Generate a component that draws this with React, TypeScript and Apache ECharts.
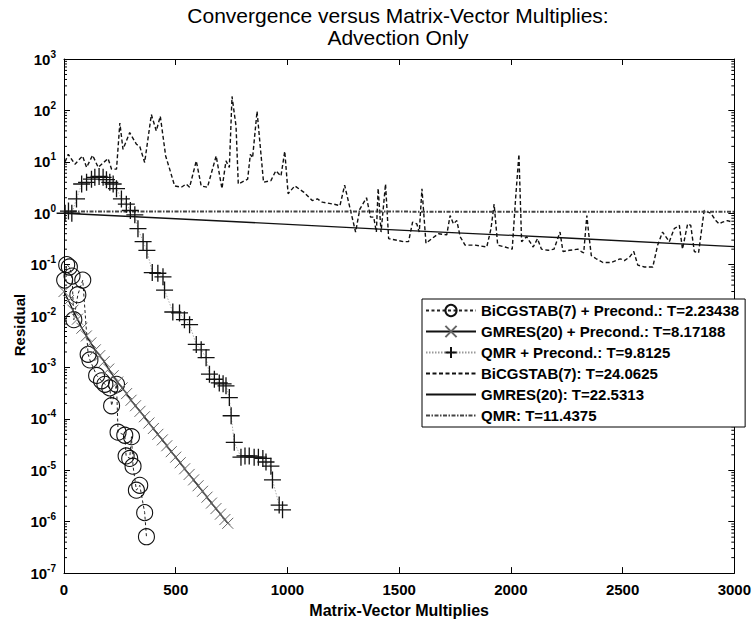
import React, { useEffect, useRef } from 'react';
import * as echarts from 'echarts';

const FONT = '"Liberation Sans", Arial, Helvetica, sans-serif';

const seriesNames = [
  'BiCGSTAB(7) + Precond.: T=2.23438',
  'GMRES(20) + Precond.: T=8.17188',
  'QMR + Precond.: T=9.8125',
  'BiCGSTAB(7): T=24.0625',
  'GMRES(20): T=22.5313',
  'QMR: T=11.4375',
];

const xTicks = [0, 500, 1000, 1500, 2000, 2500, 3000];

// BiCGSTAB(7) + Precond. (circles)
const bicgPrecondX = [3, 12, 24, 36, 44, 62, 84, 108, 116, 146, 168, 183, 205, 213, 235, 242, 272, 278, 294, 302, 309, 324, 339, 361, 369];
const bicgPrecondY = [0.05, 0.1, 0.09, 0.06, 0.0085, 0.026, 0.05, 0.0018, 0.0014, 0.0007, 0.00055, 0.00047, 0.0004, 0.00018, 0.00047, 0.000055, 0.000048, 0.000019, 0.000017, 0.000045, 0.000012, 0.0000041, 0.0000051, 0.0000015, 0.00000051];

// GMRES(20) + Precond. (x marks)
const gmresPrecondX = [0, 20, 40, 60, 80, 100, 120, 140, 160, 180, 200, 220, 240, 260, 280, 300, 320, 340, 360, 380, 400, 420, 440, 460, 480, 500, 520, 540, 560, 580, 600, 620, 640, 660, 680, 700, 720, 733];
const gmresPrecondY = [0.030, 0.020, 0.013, 0.0087, 0.0058, 0.0041, 0.0030, 0.0022, 0.0017, 0.0013, 0.00093, 0.00069, 0.00052, 0.00040, 0.00031, 0.00023, 0.00018, 0.00014, 0.00011, 0.000083, 0.000065, 0.000050, 0.000039, 0.000030, 0.000023, 0.000018, 0.000014, 0.0000107, 0.0000083, 0.0000065, 0.0000050, 0.0000039, 0.0000030, 0.0000023, 0.0000018, 0.0000014, 0.0000011, 0.00000093];

// QMR + Precond. (plus marks)
const qmrPrecondX = [5, 20, 35, 56, 79, 101, 123, 138, 157, 175, 190, 205, 220, 235, 257, 279, 297, 317, 331, 354, 371, 395, 420, 443, 450, 487, 517, 539, 562, 592, 614, 636, 651, 673, 695, 712, 725, 740, 748, 762, 792, 810, 829, 851, 870, 890, 904, 926, 933, 963, 978];
const qmrPrecondY = [1.0, 1.1, 1.0, 1.9, 3.7, 4.0, 4.6, 5.0, 5.2, 5.0, 4.5, 4.0, 3.7, 3.0, 1.9, 1.5, 1.13, 0.93, 0.5, 0.28, 0.19, 0.07, 0.068, 0.058, 0.032, 0.012, 0.0115, 0.0085, 0.0068, 0.0028, 0.0022, 0.00155, 0.00074, 0.00059, 0.0005, 0.00048, 0.00044, 0.00026, 0.000115, 0.000035, 0.000018, 0.000019, 0.000019, 0.000018, 0.000018, 0.000017, 0.0000145, 0.000012, 0.0000065, 0.0000021, 0.0000017];

// BiCGSTAB(7) without preconditioner (dashed)
const bicgX = [5, 19, 49, 83, 101, 128, 153, 197, 213, 235, 250, 264, 294, 324, 339, 361, 391, 413, 431, 455, 473, 495, 525, 547, 562, 592, 614, 642, 681, 707, 725, 740, 752, 770, 780, 822, 834, 844, 864, 893, 926, 948, 971, 988, 1003, 1033, 1074, 1111, 1134, 1156, 1208, 1235, 1256, 1305, 1324, 1354, 1372, 1386, 1398, 1406, 1419, 1439, 1453, 1520, 1542, 1560, 1579, 1590, 1602, 1620, 1646, 1676, 1713, 1728, 1743, 1758, 1773, 1795, 1840, 1892, 1911, 1925, 1941, 1974, 2006, 2021, 2036, 2048, 2070, 2100, 2119, 2137, 2167, 2193, 2220, 2233, 2263, 2300, 2315, 2326, 2340, 2349, 2360, 2382, 2412, 2449, 2471, 2489, 2508, 2531, 2550, 2568, 2598, 2635, 2657, 2679, 2709, 2731, 2754, 2768, 2791, 2805, 2821, 2840, 2865, 2895, 2917, 2932, 2947, 2969, 2991];
const bicgY = [10, 14, 9, 13, 7.8, 13.4, 7.8, 11.6, 7.2, 7.2, 57, 17.5, 37, 22, 20, 9.7, 83, 40, 77, 13, 7.2, 3.4, 3.2, 3.7, 3.2, 10.4, 3.4, 3.2, 13, 3.0, 10.4, 7.8, 187, 49, 3.7, 4.6, 14, 12, 96, 4, 4.3, 6.7, 5.3, 16, 2.4, 3.4, 2.55, 1.76, 1.9, 1.64, 1.5, 1.4, 3.5, 0.43, 1.2, 2.0, 0.84, 0.84, 0.43, 3.05, 0.43, 3.7, 0.32, 0.28, 0.28, 0.67, 0.62, 0.43, 3.0, 0.26, 0.32, 0.4, 0.38, 0.9, 0.62, 0.72, 0.35, 0.24, 0.24, 0.22, 0.5, 1.5, 0.24, 0.22, 0.2, 1.9, 14, 0.28, 0.35, 0.22, 0.32, 0.2, 0.19, 0.2, 0.43, 0.18, 0.19, 0.2, 0.18, 0.17, 0.9, 0.38, 0.15, 0.13, 0.11, 0.11, 0.12, 0.13, 0.12, 0.14, 0.18, 0.098, 0.09, 0.09, 0.24, 0.43, 0.28, 0.5, 0.58, 0.2, 0.62, 0.58, 0.18, 0.17, 1.13, 1.0, 0.72, 0.62, 0.67, 0.72, 0.67];

// GMRES(20) without preconditioner (solid)
const gmresX = [0, 750, 1500, 2250, 3000];
const gmresY = [1.0, 0.69, 0.47, 0.33, 0.225];

// QMR without preconditioner (dash-dot)
const qmrX = [0, 1000, 2000, 3000];
const qmrY = [1.08, 1.08, 1.07, 1.07];

const zip = (xs: number[], ys: number[]) => xs.map((x, i) => [x, ys[i]]);

const minorTickValues: number[] = [];
for (let e = -7; e <= 2; e++) {
  for (let k = 2; k <= 9; k++) minorTickValues.push(k * Math.pow(10, e));
}

const X_SYMBOL = 'path://M0,0L10,10M10,0L0,10';
const PLUS_SYMBOL = 'path://M0,5L10,5M5,0L5,10';

export default function App() {
  const ref = useRef<HTMLDivElement>(null);

  useEffect(() => {
    if (!ref.current) return;
    const chart = echarts.init(ref.current, null, { renderer: 'svg' });

    const axisLineStyle = { color: '#000', width: 1 };

    const option: any = {
      animation: false,
      backgroundColor: '#fff',
      textStyle: { fontFamily: FONT },
      grid: { left: 64, top: 59, right: 17, bottom: 46, show: false },
      graphic: [
        {
          type: 'text',
          x: 398,
          y: 15,
          style: {
            text: 'Convergence versus Matrix-Vector Multiplies:',
            font: '21px ' + FONT,
            fill: '#000',
            textAlign: 'center',
            textVerticalAlign: 'middle',
          },
        },
        {
          type: 'text',
          x: 398,
          y: 37,
          style: {
            text: 'Advection Only',
            font: '21px ' + FONT,
            fill: '#000',
            textAlign: 'center',
            textVerticalAlign: 'middle',
          },
        },
        {
          type: 'text',
          x: 19,
          y: 325,
          rotation: Math.PI / 2,
          style: {
            text: 'Residual',
            font: 'bold 15px ' + FONT,
            fill: '#000',
            textAlign: 'center',
            textVerticalAlign: 'middle',
          },
        },
      ],
      legend: {
        data: seriesNames,
        orient: 'vertical',
        left: 422,
        top: 299,
        itemWidth: 50,
        itemHeight: 14,
        itemGap: 6,
        padding: [4, 6, 4, 3],
        borderColor: '#000',
        borderWidth: 1,
        borderRadius: 0,
        backgroundColor: '#fff',
        selectedMode: false,
        textStyle: { fontFamily: FONT, fontSize: 15, fontWeight: 'bold', color: '#000' },
      },
      xAxis: [
        {
          type: 'value',
          min: 0,
          max: 3000,
          interval: 500,
          position: 'bottom',
          name: 'Matrix-Vector Multiplies',
          nameLocation: 'middle',
          nameGap: 27,
          nameTextStyle: { fontFamily: FONT, fontSize: 16, fontWeight: 'bold', color: '#000' },
          axisLine: { show: true, onZero: false, lineStyle: axisLineStyle },
          axisTick: { show: true, inside: true, length: 6, lineStyle: axisLineStyle },
          axisLabel: {
            fontFamily: FONT,
            fontSize: 15,
            fontWeight: 'bold',
            color: '#000',
            margin: 9,
            formatter: (v: number) => (xTicks.includes(v) ? String(v) : ''),
          },
          splitLine: { show: false },
        },
        {
          type: 'value',
          min: 0,
          max: 3000,
          interval: 500,
          position: 'top',
          axisLine: { show: true, onZero: false, lineStyle: axisLineStyle },
          axisTick: { show: true, inside: true, length: 6, lineStyle: axisLineStyle },
          axisLabel: { show: false },
          splitLine: { show: false },
        },
      ],
      yAxis: [
        {
          type: 'log',
          logBase: 10,
          min: 1e-7,
          max: 1000,
          interval: 1,
          position: 'left',
          axisLine: { show: true, onZero: false, lineStyle: axisLineStyle },
          axisTick: { show: true, inside: true, length: 6, lineStyle: axisLineStyle },
          axisLabel: {
            margin: 8,
            formatter: (v: number) => {
              const e = Math.round(Math.log10(v));
              return '{b|10}{s|' + e + '}';
            },
            rich: {
              b: { fontFamily: FONT, fontSize: 15, fontWeight: 'bold', color: '#000' },
              s: { fontFamily: FONT, fontSize: 10, fontWeight: 'bold', color: '#000', padding: [0, 0, 10, 0] },
            },
          },
          splitLine: { show: false },
        },
        {
          type: 'log',
          logBase: 10,
          min: 1e-7,
          max: 1000,
          interval: 1,
          position: 'right',
          axisLine: { show: true, onZero: false, lineStyle: axisLineStyle },
          axisTick: { show: true, inside: true, length: 6, lineStyle: axisLineStyle },
          axisLabel: { show: false },
          splitLine: { show: false },
        },
      ],
      series: [
        {
          type: 'custom',
          name: 'minorTicks',
          xAxisIndex: 0,
          yAxisIndex: 0,
          silent: true,
          data: minorTickValues.map((v) => [0, v]),
          encode: { x: 0, y: 1 },
          renderItem: (params: any, api: any) => {
            const v = api.value(1);
            const a = api.coord([0, v]);
            const b = api.coord([3000, v]);
            return {
              type: 'group',
              children: [
                { type: 'line', shape: { x1: a[0], y1: a[1], x2: a[0] + 3, y2: a[1] }, style: { stroke: '#000', lineWidth: 1 } },
                { type: 'line', shape: { x1: b[0] - 3, y1: b[1], x2: b[0], y2: b[1] }, style: { stroke: '#000', lineWidth: 1 } },
              ],
            };
          },
        },
        {
          type: 'line',
          name: seriesNames[3],
          data: zip(bicgX, bicgY),
          symbol: 'none',
          itemStyle: { color: 'transparent' },
          lineStyle: { color: '#111', width: 1.4, type: [4, 2.5] },
          z: 2,
        },
        {
          type: 'line',
          name: seriesNames[4],
          data: zip(gmresX, gmresY),
          symbol: 'none',
          itemStyle: { color: 'transparent' },
          lineStyle: { color: '#111', width: 1.3, type: 'solid' },
          z: 2,
        },
        {
          type: 'line',
          name: seriesNames[5],
          data: zip(qmrX, qmrY),
          symbol: 'none',
          itemStyle: { color: 'transparent' },
          lineStyle: { color: '#444', width: 2, type: [4, 1.5, 1.5, 1.5] },
          z: 2,
        },
        {
          type: 'line',
          name: seriesNames[0],
          data: zip(bicgPrecondX, bicgPrecondY),
          symbol: 'circle',
          symbolSize: 16,
          itemStyle: { color: 'transparent', borderColor: '#111', borderWidth: 1.1 },
          lineStyle: { color: '#222', width: 1, type: [3, 2.5] },
          z: 3,
        },
        {
          type: 'line',
          name: seriesNames[1],
          data: zip(gmresPrecondX, gmresPrecondY),
          symbol: X_SYMBOL,
          symbolSize: 11,
          itemStyle: { color: 'transparent', borderColor: '#666', borderWidth: 1 },
          lineStyle: { color: '#111', width: 1.3, type: 'solid' },
          z: 3,
        },
        {
          type: 'line',
          name: seriesNames[2],
          data: zip(qmrPrecondX, qmrPrecondY),
          symbol: PLUS_SYMBOL,
          symbolSize: 17,
          itemStyle: { color: 'transparent', borderColor: '#111', borderWidth: 1.3 },
          lineStyle: { color: '#999', width: 0.8, type: [1.5, 1.5] },
          z: 3,
        },
      ],
    };

    chart.setOption(option);
    return () => chart.dispose();
  }, []);

  return (
    <div
      ref={ref}
      style={{ position: 'fixed', left: 0, top: 0, width: 754, height: 623, background: '#fff' }}
    />
  );
}
